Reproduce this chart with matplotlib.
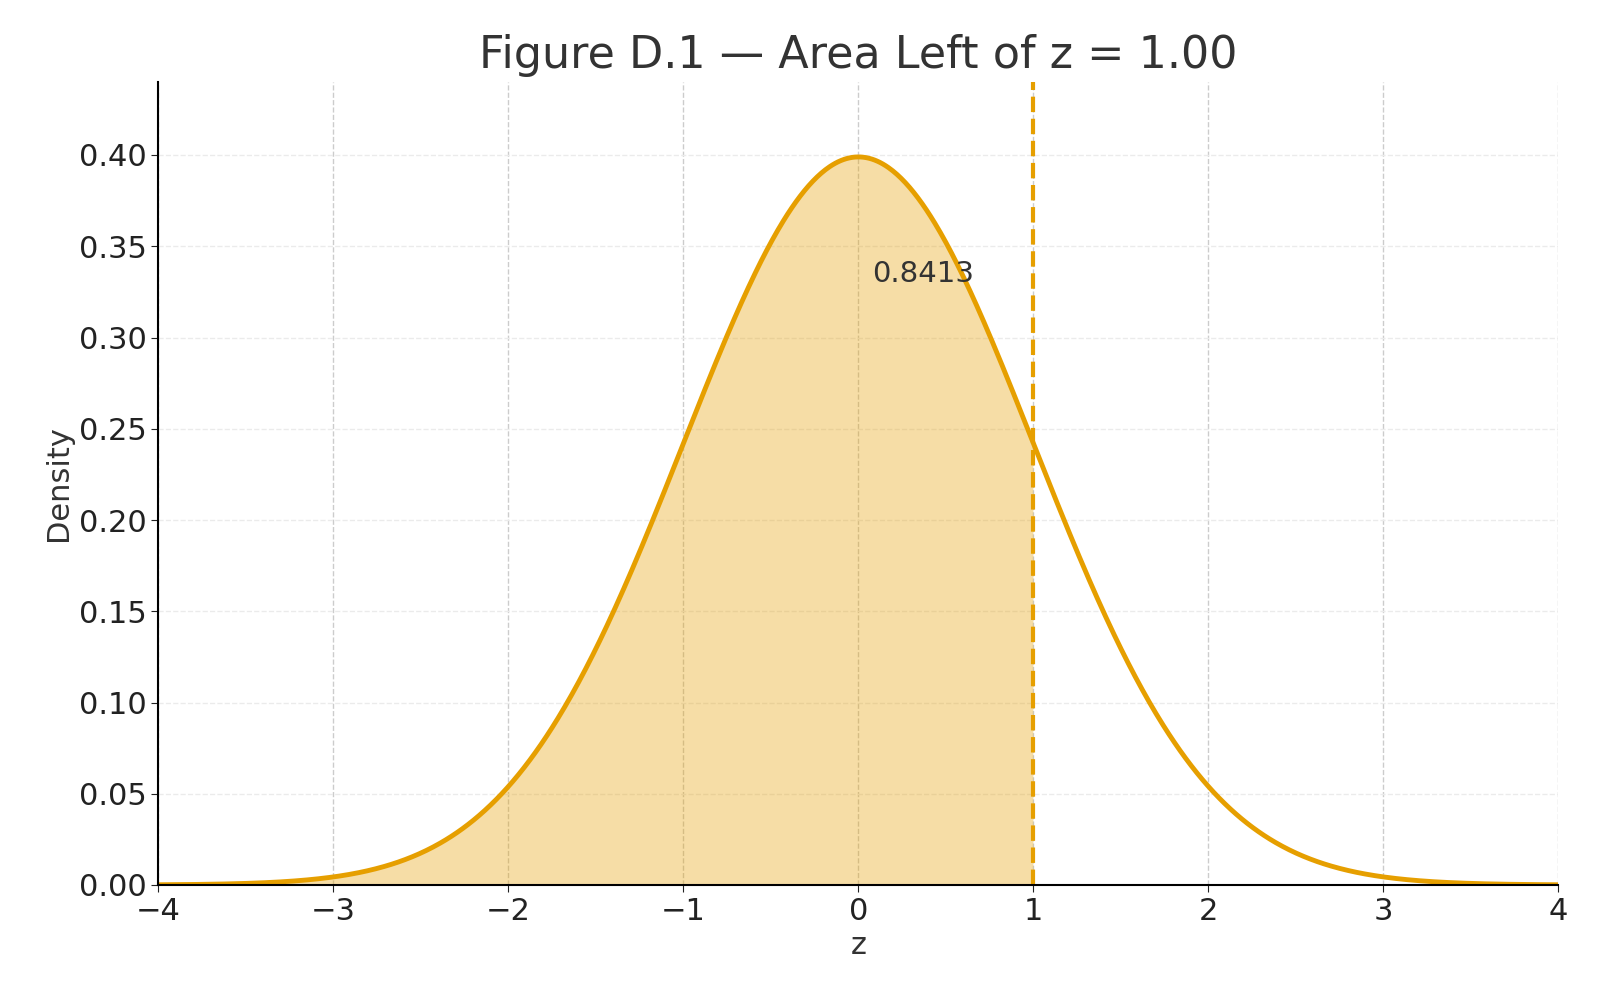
import numpy as np
import matplotlib
matplotlib.use("Agg")
import matplotlib.pyplot as plt

mu = 0.0
sigma = 1.0
z_cut = 1.00
area_label = "0.8413"
x_range = (-4, 4)
x_ticks = [-4, -3, -2, -1, 0, 1, 2, 3, 4]
y_ticks = [0.00, 0.05, 0.10, 0.15, 0.20, 0.25, 0.30, 0.35, 0.40]

x = np.linspace(x_range[0], x_range[1], 1000)
y = np.exp(-0.5 * ((x - mu) / sigma) ** 2) / (sigma * np.sqrt(2 * np.pi))

color = "#E69F00"
fig = plt.figure(figsize=(16, 10), dpi=100)
ax = fig.add_axes([0.099, 0.115, 0.875, 0.803])
ax.plot(x, y, color=color, lw=3.5)
m = x <= z_cut
ax.fill_between(x[m], y[m], color=color, alpha=0.35, lw=0)
ax.axvline(z_cut, color=color, lw=3, ls="--")
ax.text(0.08, 0.335, area_label, fontsize=21, color="#333333", va="center")

ax.set_xlim(*x_range)
ax.set_ylim(0, 0.44)
ax.set_xticks(x_ticks)
ax.set_xticklabels([f"{t}".replace("-", "\u2212") for t in x_ticks])
ax.set_yticks(y_ticks)
ax.set_yticklabels([f"{t:.2f}" for t in y_ticks])
ax.tick_params(labelsize=22, colors="#222222", length=5)
ax.grid(axis="x", ls="--", color="#cccccc", lw=1)
ax.grid(axis="y", ls="--", color="#ebebeb", lw=1)
ax.set_axisbelow(True)
for s in ["top", "right"]:
    ax.spines[s].set_visible(False)
for s in ["left", "bottom"]:
    ax.spines[s].set_linewidth(1.5)
ax.set_xlabel("z", fontsize=22, color="#333333")
ax.set_ylabel("Density", fontsize=22, color="#333333")
ax.set_title("Figure D.1 \u2014 Area Left of z = 1.00", fontsize=32, color="#333333", pad=10)
fig.savefig("out.png")
